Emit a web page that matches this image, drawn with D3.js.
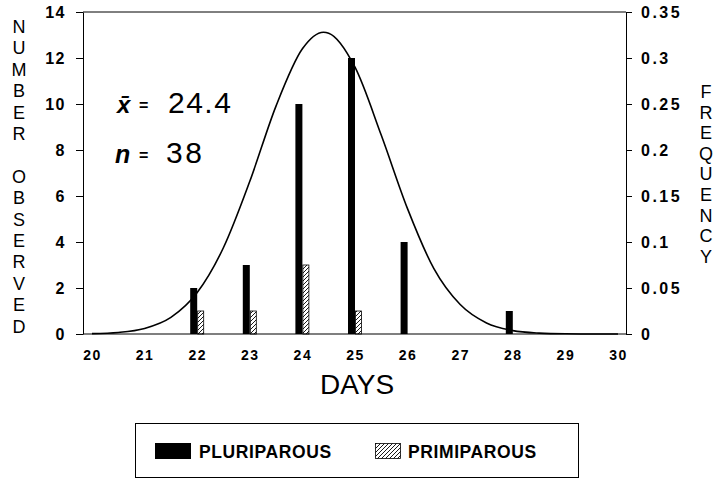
<!DOCTYPE html>
<html>
<head>
<meta charset="utf-8">
<script src="https://cdn.jsdelivr.net/npm/d3@7"></script>
<style>
  body { margin: 0; background: #fff; }
  svg { font-family: "Liberation Sans", Arial, sans-serif; }
</style>
</head>
<body>
<div id="vis"></div>
<script>
const FRAME_WIDTH = 717;
const FRAME_HEIGHT = 480;

// data
const DAYS = [22, 23, 24, 25, 26, 27, 28];
const PLURIPAROUS = [2, 3, 10, 12, 4, 0, 1];
const PRIMIPAROUS = [1, 1, 3, 1, 0, 0, 0];

// fitted curve (frequency), read at half days
const CURVE_DAYS = [20, 20.5, 21, 21.5, 22, 22.5, 23, 23.5, 24, 24.4, 24.5, 25, 25.5,
                    26, 26.5, 27, 27.5, 28, 28.5, 29, 29.5, 30];
const CURVE_FREQ = [0.0004, 0.0017, 0.006, 0.018, 0.045, 0.094, 0.166, 0.248, 0.31, 0.328, 0.327,
                    0.29, 0.216, 0.136, 0.071, 0.032, 0.012, 0.0037, 0.001, 0.0002, 0.00003, 0];

const X_TICKS = [20, 21, 22, 23, 24, 25, 26, 27, 28, 29, 30];
const COUNT_TICKS = [0, 2, 4, 6, 8, 10, 12, 14];
const FREQ_TICKS = [0, 0.05, 0.1, 0.15, 0.2, 0.25, 0.3, 0.35];
const FREQ_LABELS = ["0", "0.05", "0.1", "0.15", "0.2", "0.25", "0.3", "0.35"];

const BOX = {left: 83, right: 626, top: 12, bottom: 334};

const svg = d3.select("#vis")
  .append("svg")
    .attr("width", FRAME_WIDTH)
    .attr("height", FRAME_HEIGHT);

// hatch pattern for primiparous
const defs = svg.append("defs");
defs.append("pattern")
    .attr("id", "hatch")
    .attr("patternUnits", "userSpaceOnUse")
    .attr("width", 4).attr("height", 4)
  .append("path")
    .attr("d", "M-1,1 l2,-2 M0,4 l4,-4 M3,5 l2,-2")
    .attr("stroke", "#000")
    .attr("stroke-width", 0.9);

const X = d3.scaleLinear().domain([20, 30]).range([92, 618]);
const Y = d3.scaleLinear().domain([0, 14]).range([BOX.bottom, BOX.top]);
const Y_FREQ = d3.scaleLinear().domain([0, 0.35]).range([BOX.bottom, BOX.top]);

const BAR_W = 7;

// top border
svg.append("line")
  .attr("x1", BOX.left).attr("x2", BOX.right)
  .attr("y1", BOX.top).attr("y2", BOX.top)
  .attr("stroke", "#000").attr("stroke-width", 1);

// bottom axis (labels only)
const xAxis = svg.append("g")
  .attr("transform", "translate(0," + BOX.bottom + ")")
  .call(d3.axisBottom(X).tickValues(X_TICKS).tickSize(0).tickPadding(16));
xAxis.select(".domain").remove();
xAxis.append("line")
  .attr("x1", BOX.left).attr("x2", BOX.right)
  .attr("stroke", "#000").attr("stroke-width", 1.2);
xAxis.selectAll("text")
  .attr("font-size", "14px").attr("font-weight", "bold")
  .attr("letter-spacing", "1.5px")
  .attr("font-family", "Liberation Sans, Arial, sans-serif")
  .attr("fill", "#000");

// left axis
const yAxis = svg.append("g")
  .attr("transform", "translate(" + BOX.left + ",0)")
  .call(d3.axisLeft(Y).tickValues(COUNT_TICKS).tickSize(7).tickPadding(10).tickSizeOuter(0));
yAxis.selectAll("text")
  .attr("font-size", "16px").attr("font-weight", "bold")
  .attr("letter-spacing", "1.5px")
  .attr("font-family", "Liberation Sans, Arial, sans-serif").attr("fill", "#000");

// right axis
const rAxis = svg.append("g")
  .attr("transform", "translate(" + BOX.right + ",0)")
  .call(d3.axisRight(Y_FREQ).tickValues(FREQ_TICKS)
        .tickFormat((d, i) => FREQ_LABELS[i]).tickSize(6).tickPadding(9).tickSizeOuter(0));
rAxis.selectAll("text")
  .attr("font-size", "16px").attr("font-weight", "bold")
  .attr("letter-spacing", "2.5px")
  .attr("font-family", "Liberation Sans, Arial, sans-serif").attr("fill", "#000");

// bars
svg.selectAll(".pluri")
  .data(DAYS.map((d, i) => ({day: d, v: PLURIPAROUS[i]})).filter(d => d.v > 0))
  .enter().append("rect")
    .attr("class", "pluri")
    .attr("x", d => X(d.day) - BAR_W)
    .attr("width", BAR_W)
    .attr("y", d => Y(d.v))
    .attr("height", d => Y(0) - Y(d.v))
    .attr("fill", "#000");

svg.selectAll(".primi")
  .data(DAYS.map((d, i) => ({day: d, v: PRIMIPAROUS[i]})).filter(d => d.v > 0))
  .enter().append("rect")
    .attr("class", "primi")
    .attr("x", d => X(d.day) + 0.5)
    .attr("width", BAR_W - 1)
    .attr("y", d => Y(d.v))
    .attr("height", d => Y(0) - Y(d.v))
    .attr("fill", "url(#hatch)")
    .attr("stroke", "#000").attr("stroke-width", 0.8);

// normal curve
const line = d3.line()
  .x(d => X(d[0]))
  .y(d => Y_FREQ(d[1]))
  .curve(d3.curveMonotoneX);
svg.append("path")
  .datum(CURVE_DAYS.map((d, i) => [d, CURVE_FREQ[i]]))
  .attr("d", line)
  .attr("fill", "none")
  .attr("stroke", "#000")
  .attr("stroke-width", 1.6);

// stats text
const stat1 = svg.append("text").attr("y", 113).attr("font-size", "30px");
stat1.append("tspan").attr("x", 117).attr("font-style", "italic").attr("font-weight", "bold")
  .attr("font-size", "24px").text("x\u0304");
stat1.append("tspan").attr("x", 139).attr("dy", -2).attr("font-weight", "bold").attr("font-size", "16px").text("=");
stat1.append("tspan").attr("x", 168).attr("dy", 2).attr("letter-spacing", "1.5px").text("24.4");

const stat2 = svg.append("text").attr("y", 163).attr("font-size", "30px");
stat2.append("tspan").attr("x", 115).attr("font-style", "italic").attr("font-weight", "bold")
  .attr("font-size", "25px").text("n");
stat2.append("tspan").attr("x", 139).attr("dy", -2).attr("font-weight", "bold").attr("font-size", "16px").text("=");
stat2.append("tspan").attr("x", 166).attr("dy", 2).attr("letter-spacing", "2.5px").text("38");

// vertical stacked axis titles
const leftTitle = "NUMBER OBSERVED".split("");
svg.selectAll(".ltitle")
  .data(leftTitle)
  .enter().append("text")
    .attr("x", 19)
    .attr("y", (d, i) => 33 + i * 21.4)
    .attr("text-anchor", "middle")
    .attr("font-size", "18px")
    .text(d => d);

const rightTitle = "FREQUENCY".split("");
svg.selectAll(".rtitle")
  .data(rightTitle)
  .enter().append("text")
    .attr("x", 706)
    .attr("y", (d, i) => 98 + i * 20.6)
    .attr("text-anchor", "middle")
    .attr("font-size", "18px")
    .text(d => d);

svg.append("text")
  .attr("x", 357).attr("y", 394)
  .attr("text-anchor", "middle")
  .attr("font-size", "28px")
  .text("DAYS");

// legend
const legend = svg.append("g");
legend.append("rect")
  .attr("x", 135.5).attr("y", 423.5)
  .attr("width", 443).attr("height", 54)
  .attr("fill", "none").attr("stroke", "#000").attr("stroke-width", 1);
legend.append("rect")
  .attr("x", 155).attr("y", 443).attr("width", 36).attr("height", 16)
  .attr("fill", "#000");
legend.append("text")
  .attr("x", 199).attr("y", 458)
  .attr("font-size", "17.5px").attr("font-weight", "bold")
  .attr("letter-spacing", "0.6px")
  .text("PLURIPAROUS");
legend.append("rect")
  .attr("x", 375.5).attr("y", 443.5).attr("width", 25).attr("height", 15)
  .attr("fill", "url(#hatch)")
  .attr("stroke", "#000").attr("stroke-width", 0.8);
legend.append("text")
  .attr("x", 408).attr("y", 458)
  .attr("font-size", "17.5px").attr("font-weight", "bold")
  .attr("letter-spacing", "0.6px")
  .text("PRIMIPAROUS");
</script>
</body>
</html>
